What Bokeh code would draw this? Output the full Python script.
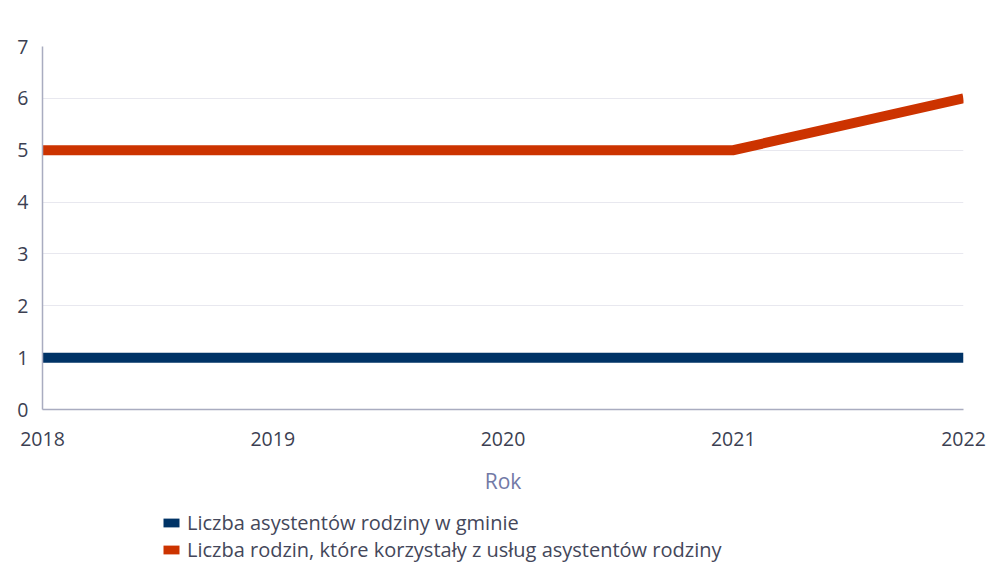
from bokeh.plotting import figure
from bokeh.models import Legend, LegendItem, Range1d, FixedTicker
from bokeh.layouts import column
from bokeh.embed import file_html
from bokeh.resources import INLINE

years = [2018, 2019, 2020, 2021, 2022]
asystenci = [1, 1, 1, 1, 1]
rodziny = [5, 5, 5, 5, 6]
y_ticks = [0, 1, 2, 3, 4, 5, 6, 7]
series_names = ["Liczba asystentów rodziny w gminie",
                "Liczba rodzin, które korzystały z usług asystentów rodziny"]
colors = ["#003366", "#cc3300"]
x_title = "Rok"

FONT = "Open Sans"

p = figure(frame_width=921, frame_height=363, output_backend="svg", toolbar_location=None,
           x_range=Range1d(2018, 2022), y_range=Range1d(0, 7),
           min_border_left=42, min_border_right=24, min_border_top=46,
           min_border_bottom=0)
p.outline_line_color = None
p.background_fill_color = "white"
p.border_fill_color = "white"

p.line(years, asystenci, line_color=colors[0], line_width=10, line_cap="butt")
p.line(years, rodziny, line_color=colors[1], line_width=10, line_cap="butt", line_join="miter")

p.xaxis.ticker = FixedTicker(ticks=years)
p.yaxis.ticker = FixedTicker(ticks=y_ticks)
for ax in (p.xaxis, p.yaxis):
    ax.major_tick_line_color = None
    ax.minor_tick_line_color = None
    ax.axis_line_color = "#a9acc0"
    ax.axis_line_width = 1.5
    ax.major_label_text_font = FONT
    ax.major_label_text_font_size = "19.5px"
    ax.major_label_text_color = "#3c3f52"
p.yaxis.major_label_standoff = 8
p.xaxis.major_label_standoff = 16
p.xaxis.axis_label = x_title
p.xaxis.axis_label_text_font = FONT
p.xaxis.axis_label_text_font_size = "21px"
p.xaxis.axis_label_text_font_style = "normal"
p.xaxis.axis_label_text_color = "#7279a6"
p.xaxis.axis_label_standoff = 18

p.xgrid.grid_line_color = None
p.ygrid.grid_line_color = "#e8e8ef"
p.ygrid.grid_line_width = 1

# legend figure underneath
lf = figure(width=987, height=67, output_backend="svg", toolbar_location=None,
            x_range=Range1d(0, 1), y_range=Range1d(0, 1),
            x_axis_type=None, y_axis_type=None,
            min_border_left=0, min_border_right=0, min_border_top=0, min_border_bottom=0)
lf.outline_line_color = None
lf.xgrid.visible = False
lf.ygrid.visible = False
# legend-only swatches, kept outside the visible range
q1 = lf.quad(top=[3], bottom=[2], left=[2], right=[3], fill_color=colors[0], line_color=None)
q2 = lf.quad(top=[3], bottom=[2], left=[2], right=[3], fill_color=colors[1], line_color=None)

legend = Legend(items=[LegendItem(label=series_names[0], renderers=[q1]),
                       LegendItem(label=series_names[1], renderers=[q2])],
                orientation="vertical", location=(119, 1))
legend.label_text_font = FONT
legend.label_text_font_size = "20px"
legend.label_text_color = "#44475a"
legend.glyph_width = 20
legend.glyph_height = 11
legend.label_standoff = 6
legend.label_height = 20
legend.spacing = 0
legend.padding = 0
legend.margin = 0
legend.border_line_color = None
legend.background_fill_alpha = 0
lf.add_layout(legend, "center")

layout = column(p, lf, spacing=0)

open("out.html", "w").write(file_html(layout, INLINE))
